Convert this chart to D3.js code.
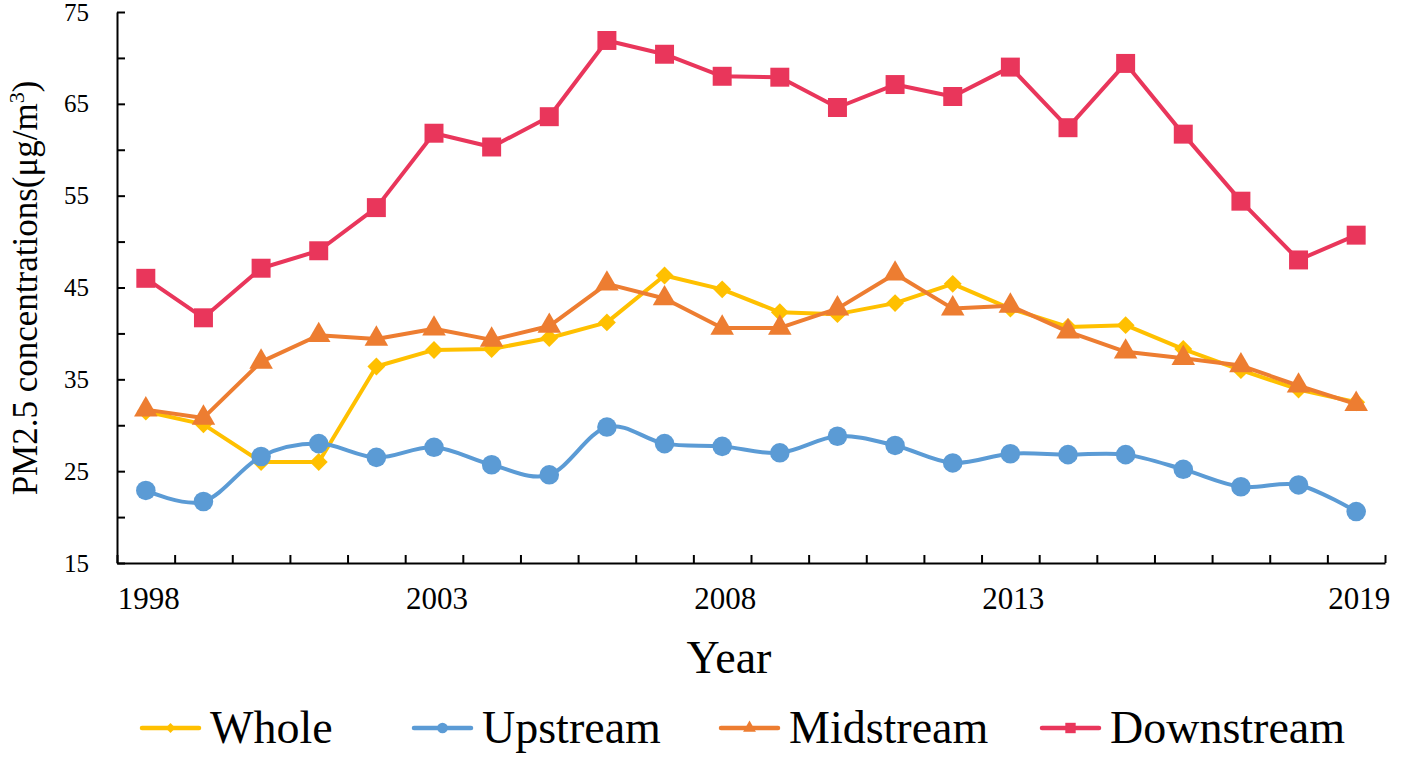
<!DOCTYPE html>
<html>
<head>
<meta charset="utf-8">
<script src="https://cdn.jsdelivr.net/npm/d3@7"></script>
<style>
  html, body { margin: 0; padding: 0; background: #fff; }
  svg { display: block; }
  svg text { font-family: "Liberation Serif", "Times New Roman", serif !important; }
</style>
</head>
<body>
<svg id="chart" width="1405" height="758"></svg>
<script>
// values
var years = d3.range(1998, 2020);
var yearLabels = [1998, 2003, 2008, 2013, 2019];
var yTicks = d3.range(15, 76, 5);
var yLabels = [15, 25, 35, 45, 55, 65, 75];

var whole = [31.5, 30.1, 26.0, 26.0, 36.4, 38.2, 38.3, 39.5, 41.2, 46.3, 44.8, 42.3, 42.1, 43.3, 45.4, 42.7, 40.7, 40.9, 38.3, 36.0, 33.9, 32.5];
var upstream = [22.9, 21.7, 26.6, 28.0, 26.5, 27.6, 25.7, 24.6, 29.8, 28.0, 27.7, 27.0, 28.8, 27.8, 25.9, 26.9, 26.8, 26.8, 25.2, 23.3, 23.5, 20.6];
var midstream = [31.7, 30.8, 36.9, 39.8, 39.4, 40.5, 39.3, 40.8, 45.4, 43.8, 40.6, 40.6, 42.7, 46.5, 42.7, 43.0, 40.2, 38.0, 37.3, 36.5, 34.3, 32.3];
var downstream = [46.0, 41.7, 47.1, 49.0, 53.7, 61.8, 60.3, 63.6, 71.9, 70.4, 68.0, 67.9, 64.6, 67.1, 65.8, 69.0, 62.4, 69.4, 61.7, 54.4, 48.0, 50.7];

var seriesNames = ['Whole', 'Upstream', 'Midstream', 'Downstream'];
var seriesValues = [whole, upstream, midstream, downstream];

(function () {
	'use strict';

	var margin = {top: 12, right: 20, bottom: 195, left: 117},
		width = 1405 - margin.left - margin.right,
		height = 758 - margin.top - margin.bottom;

	var styles = {
		Whole: {color: '#FFC000', shape: 'diamond', size: 160, smooth: false},
		Upstream: {color: '#5B9BD5', shape: 'circle', size: 300, smooth: true},
		Midstream: {color: '#ED7D31', shape: 'triangle', size: 240, smooth: false},
		Downstream: {color: '#E9365B', shape: 'square', size: 360, smooth: false}
	};

	var svg = d3.select('#chart');
	var g = svg.append('g')
		.attr('transform', 'translate(' + margin.left + ',' + margin.top + ')');

	// category axis: points sit in the middle of each year's slot
	var xEdge = d3.scaleLinear()
		.domain([0, years.length])
		.range([0, width]);
	var x = d3.scaleBand()
		.domain(years)
		.range([0, width])
		.padding(0);
	var y = d3.scaleLinear()
		.domain([15, 75])
		.range([height, 0]);

	function cx(i) {
		return x(years[i]) + x.bandwidth() / 2;
	}

	// x axis line and inner ticks at slot boundaries
	var xAxis = g.append('g')
		.attr('transform', 'translate(0,' + height + ')')
		.call(d3.axisBottom(xEdge)
			.tickValues(d3.range(0, years.length + 1))
			.tickSize(-8)
			.tickSizeOuter(0)
			.tickFormat(''));
	xAxis.select('.domain').attr('stroke', '#000').attr('stroke-width', 2);
	xAxis.selectAll('.tick line').attr('stroke', '#000').attr('stroke-width', 2);

	// year labels
	var xLab = g.append('g')
		.attr('transform', 'translate(0,' + height + ')')
		.call(d3.axisBottom(x)
			.tickValues(yearLabels)
			.tickSize(0)
			.tickPadding(24));
	xLab.select('.domain').remove();
	xLab.selectAll('text')
		.attr('font-size', 31)
		.attr('fill', '#000')
		.attr('dx', 3);

	// y axis
	var yAxis = g.append('g')
		.call(d3.axisLeft(y)
			.tickValues(yTicks)
			.tickSize(-8)
			.tickSizeOuter(0)
			.tickPadding(28)
			.tickFormat(function (d) {
				return yLabels.indexOf(d) >= 0 ? d : '';
			}));
	yAxis.select('.domain').attr('stroke', '#000').attr('stroke-width', 2);
	yAxis.selectAll('.tick line').attr('stroke', '#000').attr('stroke-width', 2);
	yAxis.selectAll('text')
		.attr('font-size', 25)
		.attr('fill', '#000');

	// series
	seriesNames.forEach(function (name, k) {
		var st = styles[name];
		var vals = seriesValues[k];
		var line = d3.line()
			.x(function (d, i) { return cx(i); })
			.y(function (d) { return y(d); })
			.curve(st.smooth ? d3.curveCardinal.tension(0) : d3.curveLinear);

		g.append('path')
			.datum(vals)
			.attr('fill', 'none')
			.attr('stroke', st.color)
			.attr('stroke-width', 4)
			.attr('stroke-linejoin', 'round')
			.attr('d', line);

		g.append('g').selectAll('path')
			.data(vals)
			.enter().append('path')
			.attr('d', markerPath(st.shape, st.size))
			.attr('fill', st.color)
			.attr('transform', function (d, i) {
				return 'translate(' + cx(i) + ',' + y(d) + ')' + (st.shape === 'diamond' ? ' rotate(45)' : '');
			});
	});

	function markerPath(shape, size) {
		var type = {
			circle: d3.symbolCircle,
			square: d3.symbolSquare,
			diamond: d3.symbolSquare,
			triangle: d3.symbolTriangle
		}[shape];
		return d3.symbol().type(type).size(size)();
	}

	// axis titles
	svg.append('text')
		.attr('transform', 'translate(37,288) rotate(-90)')
		.attr('text-anchor', 'middle')
		.attr('font-size', 35)
		.attr('fill', '#000')
		.html('PM2.5 concentrations(μg/m<tspan dy="-13" font-size="22">3</tspan><tspan dy="13">)</tspan>');

	svg.append('text')
		.attr('x', 729)
		.attr('y', 673)
		.attr('text-anchor', 'middle')
		.attr('font-size', 46)
		.attr('fill', '#000')
		.text('Year');

	// legend
	var legendX = [142, 414, 721, 1042];
	var legendY = 728;
	seriesNames.forEach(function (name, k) {
		var st = styles[name];
		var lg = svg.append('g').attr('transform', 'translate(' + legendX[k] + ',' + legendY + ')');
		lg.append('line')
			.attr('x1', 0).attr('x2', 57)
			.attr('y1', 0).attr('y2', 0)
			.attr('stroke', st.color)
			.attr('stroke-width', 4.5)
			.attr('stroke-linecap', 'round');
		lg.append('path')
			.attr('d', markerPath(st.shape, st.size * 0.3))
			.attr('fill', st.color)
			.attr('transform', 'translate(28.5,0)' + (st.shape === 'diamond' ? ' rotate(45)' : ''));
		lg.append('text')
			.attr('x', 68)
			.attr('y', 15)
			.attr('font-size', 46)
			.attr('fill', '#000')
			.text(name);
	});
})();
</script>
</body>
</html>
